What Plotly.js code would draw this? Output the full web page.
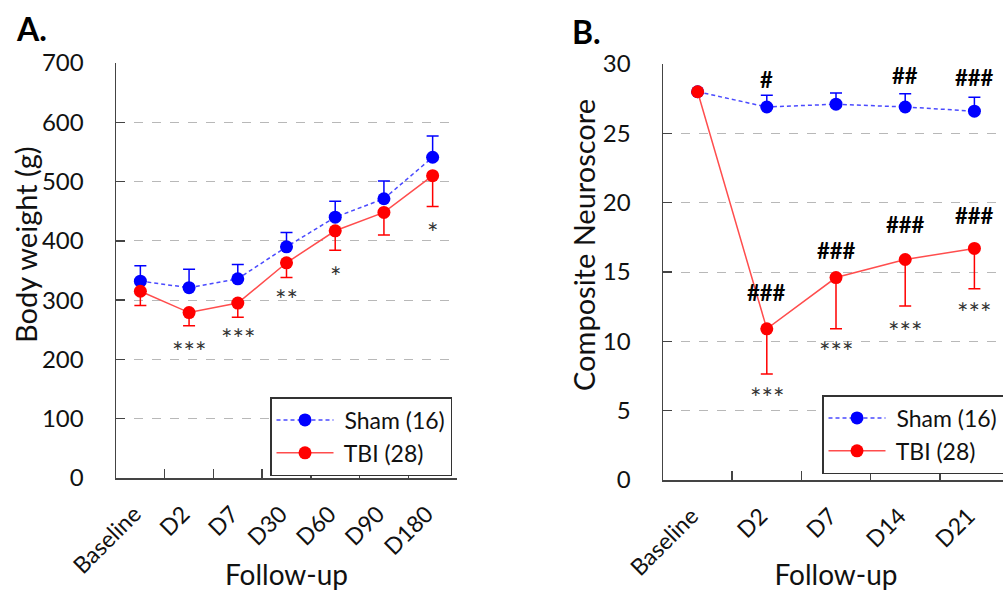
<!DOCTYPE html>
<html>
<head>
<meta charset="utf-8">
<script src="https://cdn.plot.ly/plotly-3.0.1.min.js"></script>
<style>
html,body{margin:0;padding:0;background:#fff;overflow:hidden;}
#chart{width:1020px;height:591px;}
</style>
</head>
<body>
<div id="chart"></div>
<script>
// ---- Data ----
const catsA = ['Baseline','D2','D7','D30','D60','D90','D180'];
const shamWeight    = [332, 321, 336, 390, 440, 471, 541];
const shamWeightErr = [26, 31, 24, 24, 27, 30, 36];
const tbiWeight     = [315, 279, 295, 363, 417, 448, 510];
const tbiWeightErr  = [24, 22, 24, 25, 33, 38, 52];
const starsA        = ['', '***', '***', '**', '*', '', '*'];
const starsAY       = [null, 221, 243, 309, 348, null, 423];

const catsB = ['Baseline','D2','D7','D14','D21'];
const shamScore    = [28, 26.9, 27.1, 26.9, 26.6];
const shamScoreErr = [null, 0.85, 0.8, 0.95, 1.0];
const tbiScore     = [28, 10.9, 14.6, 15.9, 16.7];
const tbiScoreErr  = [null, 3.25, 3.7, 3.35, 2.9];
const shamHashB    = ['', '#', '', '##', '###'];
const shamHashBY   = [null, 28.86, null, 29.2, 29.05];
const tbiHashB     = ['', '###', '###', '###', '###'];
const tbiHashBY    = [null, 13.5, 16.55, 18.45, 19.1];
const tbiStarsB    = ['', '***', '***', '***', '***'];
const tbiStarsBY   = [null, 6.33, 9.62, 11.06, 12.46];

const legendNames = ['Sham (16)', 'TBI (28)'];
const titleA = 'Body weight (g)';
const titleB = 'Composite Neuroscore';
const xTitle = 'Follow-up';

// ---- Style ----
const FONT = 'Lato, "Open Sans", sans-serif';
const W = 1020, H = 591;
const BLUE = '#0000ff', BLUE_LINE = '#4a4aff';
const RED = '#ff0000', RED_LINE = '#ff4d4d';
const AX = '#444';

function px2x(p){ return p / W; }
function px2y(p){ return 1 - p / H; }

function shamTrace(x, y, err, xa, ya, lg, show){
  return {
    x: x, y: y, type: 'scatter', mode: 'lines+markers', name: '\u00a0' + legendNames[0],
    xaxis: xa, yaxis: ya, legend: lg, showlegend: show,
    line: {color: BLUE_LINE, width: 1.5, dash: '4px,3px'},
    marker: {color: BLUE, size: 13},
    error_y: {type: 'data', array: err, symmetric: false, arrayminus: err.map(()=>0),
              color: BLUE, thickness: 1.5, width: 6}
  };
}
function tbiTrace(x, y, err, xa, ya, lg, show){
  return {
    x: x, y: y, type: 'scatter', mode: 'lines+markers', name: '\u00a0' + legendNames[1],
    xaxis: xa, yaxis: ya, legend: lg, showlegend: show,
    line: {color: RED_LINE, width: 1.5},
    marker: {color: RED, size: 13},
    error_y: {type: 'data', symmetric: false, array: err.map(()=>0), arrayminus: err,
              color: RED, thickness: 1.5, width: 6}
  };
}

const data = [
  shamTrace(catsA, shamWeight, shamWeightErr, 'x', 'y', 'legend', true),
  tbiTrace(catsA, tbiWeight, tbiWeightErr, 'x', 'y', 'legend', true),
  shamTrace(catsB, shamScore, shamScoreErr, 'x2', 'y2', 'legend2', true),
  tbiTrace(catsB, tbiScore, tbiScoreErr, 'x2', 'y2', 'legend2', true)
];

function annots(cats, labels, ys, xref, yref, font, yshift){
  const out = [];
  labels.forEach((t, i) => {
    if (!t) return;
    out.push({x: cats[i], y: ys[i], xref: xref, yref: yref, text: t, showarrow: false,
              font: font, yanchor: 'middle', yshift: yshift});
  });
  return out;
}
const STAR_FONT = {family: FONT, size: 27, color: '#333'};
const HASH_FONT = {family: FONT, size: 22, color: '#000', weight: 'bold'};
const TITLE_FONT = {family: FONT, size: 29, color: '#111'};

const annotations = [].concat(
  annots(catsA, starsA, starsAY, 'x', 'y', STAR_FONT, -5),
  annots(catsB, shamHashB, shamHashBY, 'x2', 'y2', HASH_FONT, 0),
  annots(catsB, tbiHashB, tbiHashBY, 'x2', 'y2', HASH_FONT, 0),
  annots(catsB, tbiStarsB, tbiStarsBY, 'x2', 'y2', STAR_FONT, -5),
  [
    {x: px2x(14), y: px2y(29), xref: 'paper', yref: 'paper', xanchor: 'left', yanchor: 'middle',
     text: '<b>A.</b>', showarrow: false, font: {family: FONT, size: 32, color: '#000'}},
    {x: px2x(570), y: px2y(32), xref: 'paper', yref: 'paper', xanchor: 'left', yanchor: 'middle',
     text: '<b>B.</b>', showarrow: false, font: {family: FONT, size: 32, color: '#000'}},
    {x: px2x(26), y: px2y(245), xref: 'paper', yref: 'paper', xanchor: 'center', yanchor: 'middle',
     text: titleA, textangle: -90, showarrow: false, font: TITLE_FONT},
    {x: px2x(584), y: px2y(245), xref: 'paper', yref: 'paper', xanchor: 'center', yanchor: 'middle',
     text: titleB, textangle: -90, showarrow: false, font: TITLE_FONT}
  ]
);

function xaxisDef(domain, cats){
  return {
    domain: domain, type: 'category', categoryarray: cats, range: [-0.5, cats.length - 0.5],
    showline: true, linecolor: AX, linewidth: 1.5, ticks: 'inside', tickson: 'boundaries',
    ticklen: 9, tickcolor: AX, tickwidth: 1.5, tickangle: -45, showgrid: false, zeroline: false,
    tickfont: {family: FONT, size: 23, color: '#111'}, ticklabelstandoff: 12, ticklabelshift: -6,
    automargin: false,
    title: {text: xTitle, font: {family: FONT, size: 28, color: '#111'}, standoff: 10}
  };
}
function yaxisDef(domain, range, dtick){
  return {
    domain: domain, range: range, dtick: dtick, showline: true, linecolor: AX, linewidth: 1.5,
    ticks: 'inside', ticklen: 9, tickcolor: AX, tickwidth: 1.5,
    showgrid: true, gridcolor: '#b8b8b8', griddash: 'dash', gridwidth: 1, zeroline: false,
    tickfont: {family: FONT, size: 24, color: '#111'}, ticklabelstandoff: 26, automargin: false
  };
}

const legendStyle = {
  bgcolor: '#fff', bordercolor: '#333', borderwidth: 1.5,
  font: {family: FONT, size: 23, color: '#111'}, itemwidth: 57, tracegroupgap: 0,
  xanchor: 'left', yanchor: 'top'
};

const layout = {
  width: W, height: H, margin: {l: 0, r: 0, t: 0, b: 0},
  paper_bgcolor: '#fff', plot_bgcolor: '#fff',
  font: {family: FONT},
  xaxis: xaxisDef([px2x(116), px2x(457)], catsA),
  yaxis: yaxisDef([px2y(478), px2y(63)], [0, 700], 100),
  xaxis2: Object.assign(xaxisDef([px2x(663), px2x(1009)], catsB), {anchor: 'y2'}),
  yaxis2: Object.assign(yaxisDef([px2y(480), px2y(64)], [0, 30], 5), {anchor: 'x2'}),
  legend: Object.assign({x: px2x(270), y: px2y(397)}, legendStyle),
  legend2: Object.assign({x: px2x(822), y: px2y(395)}, legendStyle),
  annotations: annotations
};
layout.xaxis.anchor = 'y';
layout.yaxis.anchor = 'x';

Plotly.newPlot('chart', data, layout, {displayModeBar: false, staticPlot: true});
</script>
</body>
</html>
